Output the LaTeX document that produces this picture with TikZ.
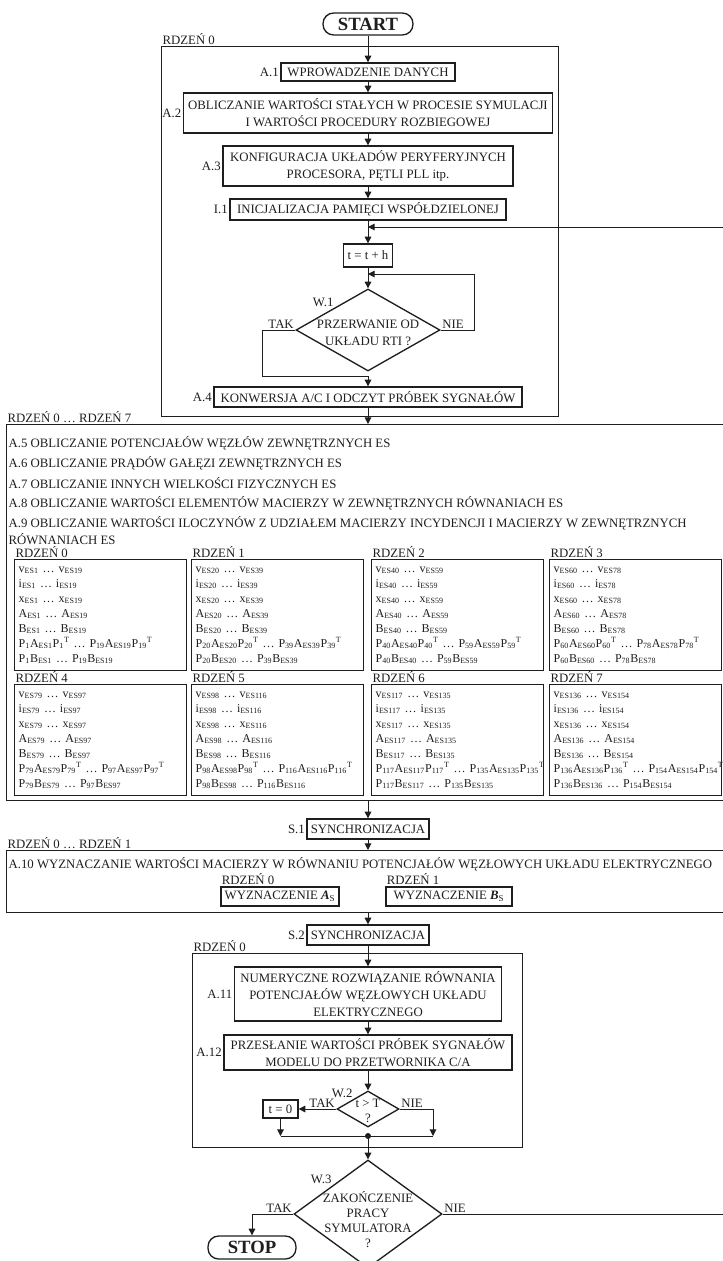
\documentclass[tikz,border=0pt]{standalone}
\usepackage{fontspec}
\setmainfont{Liberation Serif}
\usetikzlibrary{arrows.meta,positioning,shapes.geometric}
\definecolor{ink}{RGB}{30,30,30}
\newcommand{\corelist}[2]{%
v\textsubscript{ES#1}~…~v\textsubscript{ES#2}\\
i\textsubscript{ES#1}~…~i\textsubscript{ES#2}\\
x\textsubscript{ES#1}~…~x\textsubscript{ES#2}\\
A\textsubscript{ES#1}~…~A\textsubscript{ES#2}\\
B\textsubscript{ES#1}~…~B\textsubscript{ES#2}\\
P\textsubscript{#1}A\textsubscript{ES#1}P\textsubscript{#1}\textsuperscript{T}~…~P\textsubscript{#2}A\textsubscript{ES#2}P\textsubscript{#2}\textsuperscript{T}\\
P\textsubscript{#1}B\textsubscript{ES#1}~…~P\textsubscript{#2}B\textsubscript{ES#2}}

\begin{document}
\begin{tikzpicture}[x=0.75pt, y=-0.75pt,
  font=\fontsize{9.6pt}{12.75pt}\selectfont,
  box/.style={draw=ink, line width=1pt, align=center, inner sep=1pt, text=ink},
  group/.style={draw=ink, line width=1pt, inner sep=0pt, anchor=north west},
  core/.style={draw=ink, line width=1pt, align=left, anchor=north west, inner sep=3pt, text width=123pt, minimum height=83.25pt, text=ink, font=\fontsize{9pt}{11.25pt}\selectfont},
  term/.style={draw=ink, line width=1pt, rounded corners=8pt, inner sep=1pt, text=ink, font=\fontsize{14pt}{16pt}\selectfont\bfseries},
  decision/.style={draw=ink, line width=1pt, diamond, inner sep=0pt},
  lbl/.style={inner sep=1pt, text=ink},
  link/.style={draw=ink, line width=0.75pt},
  arrow/.style={link, -{Triangle[length=5pt, width=5pt]}},
]
  \useasboundingbox (0,0) rectangle (723,1261);

  \node[term, minimum width=67.5pt, minimum height=16.5pt] (start) at (368,24) {START};
  \node[group, minimum width=297.75pt, minimum height=277.5pt] (core0) at (161,46) {};
  \node[lbl, anchor=south west] (core0lbl) at (core0.north west) {RDZEŃ 0};
  \node[box, minimum width=130.5pt, minimum height=13.5pt] (a1) at (368,72) {WPROWADZENIE DANYCH};
  \node[lbl, left=0pt of a1] (a1lbl) {A.1};
  \node[box, minimum width=276.75pt, minimum height=30pt] (a2) at (368,113) {OBLICZANIE WARTOŚCI STAŁYCH W PROCESIE SYMULACJI\\I WARTOŚCI PROCEDURY ROZBIEGOWEJ};
  \node[lbl, left=0pt of a2] (a2lbl) {A.2};
  \node[box, minimum width=217.5pt, minimum height=30pt] (a3) at (368,166) {KONFIGURACJA UKŁADÓW PERYFERYJNYCH\\PROCESORA, PĘTLI PLL itp.};
  \node[lbl, left=0pt of a3] (a3lbl) {A.3};
  \node[box, minimum width=207pt, minimum height=15.75pt] (i1) at (368,209.5) {INICJALIZACJA PAMIĘCI WSPÓŁDZIELONEJ};
  \node[lbl, left=0pt of i1] (i1lbl) {I.1};
  \node[box, minimum width=36.75pt, minimum height=17.25pt] (tth) at (368,255.5) {t = t + h};
  \node[decision, minimum width=108pt, minimum height=61.5pt] (w1) at (368,330) {};
  \node[lbl, align=center] (w1txt) at (368,333) {PRZERWANIE OD\\UKŁADU RTI ?};
  \node[lbl, anchor=east] (w1lbl) at (335,302) {W.1};
  \node[lbl, anchor=south east] (w1yes) at (w1.west) {TAK};
  \node[lbl, anchor=south west] (w1no) at (w1.east) {NIE};
  \node[box, minimum width=231pt, minimum height=15pt] (a4) at (368,397) {KONWERSJA A/C I ODCZYT PRÓBEK SYGNAŁÓW};
  \node[lbl, left=0pt of a4] (a4lbl) {A.4};

  \node[group, minimum width=540pt, minimum height=282pt] (es) at (6,424) {};
  \node[lbl, anchor=south west] (eslbl) at (es.north west) {RDZEŃ 0 … RDZEŃ 7};
  \node[lbl, anchor=west] (a5) at (7,443) {A.5 OBLICZANIE POTENCJAŁÓW WĘZŁÓW ZEWNĘTRZNYCH ES};
  \node[lbl, anchor=west] (a6) at (7,463) {A.6 OBLICZANIE PRĄDÓW GAŁĘZI ZEWNĘTRZNYCH ES};
  \node[lbl, anchor=west] (a7) at (7,483) {A.7 OBLICZANIE INNYCH WIELKOŚCI FIZYCZNYCH ES};
  \node[lbl, anchor=west] (a8) at (7,503) {A.8 OBLICZANIE WARTOŚCI ELEMENTÓW MACIERZY W ZEWNĘTRZNYCH RÓWNANIACH ES};
  \node[lbl, anchor=west, align=left] (a9) at (7,531) {A.9 OBLICZANIE WARTOŚCI ILOCZYNÓW Z UDZIAŁEM MACIERZY INCYDENCJI I MACIERZY W ZEWNĘTRZNYCH\\RÓWNANIACH ES};

  \node[core] (c0) at (14,559) {\corelist{1}{19}};
  \node[core] (c1) at (191,559) {\corelist{20}{39}};
  \node[core] (c2) at (371,559) {\corelist{40}{59}};
  \node[core] (c3) at (549,559) {\corelist{60}{78}};
  \node[core] (c4) at (14,684) {\corelist{79}{97}};
  \node[core] (c5) at (191,684) {\corelist{98}{116}};
  \node[core] (c6) at (371,684) {\corelist{117}{135}};
  \node[core] (c7) at (549,684) {\corelist{136}{154}};
  \node[lbl, anchor=south west] (c0lbl) at (c0.north west) {RDZEŃ 0};
  \node[lbl, anchor=south west] (c1lbl) at (c1.north west) {RDZEŃ 1};
  \node[lbl, anchor=south west] (c2lbl) at (c2.north west) {RDZEŃ 2};
  \node[lbl, anchor=south west] (c3lbl) at (c3.north west) {RDZEŃ 3};
  \node[lbl, anchor=south west] (c4lbl) at (c4.north west) {RDZEŃ 4};
  \node[lbl, anchor=south west] (c5lbl) at (c5.north west) {RDZEŃ 5};
  \node[lbl, anchor=south west] (c6lbl) at (c6.north west) {RDZEŃ 6};
  \node[lbl, anchor=south west] (c7lbl) at (c7.north west) {RDZEŃ 7};

  \node[box, minimum width=91.5pt, minimum height=15pt] (s1) at (368,829) {SYNCHRONIZACJA};
  \node[lbl, left=0pt of s1] (s1lbl) {S.1};
  \node[group, minimum width=540pt, minimum height=46.5pt] (a10) at (6,850) {};
  \node[lbl, anchor=south west] (a10lbl) at (a10.north west) {RDZEŃ 0 … RDZEŃ 1};
  \node[lbl, anchor=west] (a10txt) at (7,864) {A.10 WYZNACZANIE WARTOŚCI MACIERZY W RÓWNANIU POTENCJAŁÓW WĘZŁOWYCH UKŁADU ELEKTRYCZNEGO};
  \node[box, minimum width=88.5pt, minimum height=14.25pt] (as) at (280,896.5) {WYZNACZENIE \textbf{\textit{A}}\textsubscript{S}};
  \node[lbl, anchor=south west] (aslbl) at (as.north west) {RDZEŃ 0};
  \node[box, minimum width=94.5pt, minimum height=14.25pt] (bs) at (449,896.5) {WYZNACZENIE \textbf{\textit{B}}\textsubscript{S}};
  \node[lbl, anchor=south west] (bslbl) at (bs.north west) {RDZEŃ 1};

  \node[box, minimum width=91.5pt, minimum height=15pt] (s2) at (368,935) {SYNCHRONIZACJA};
  \node[lbl, left=0pt of s2] (s2lbl) {S.2};
  \node[group, minimum width=247.5pt, minimum height=145.5pt] (core0b) at (192,953) {};
  \node[lbl, anchor=south west] (core0blbl) at (core0b.north west) {RDZEŃ 0};
  \node[box, minimum width=200.25pt, minimum height=40.5pt] (a11) at (368,994) {NUMERYCZNE ROZWIĄZANIE RÓWNANIA\\POTENCJAŁÓW WĘZŁOWYCH UKŁADU\\ELEKTRYCZNEGO};
  \node[lbl, left=0pt of a11] (a11lbl) {A.11};
  \node[box, minimum width=216pt, minimum height=26.25pt] (a12) at (368,1052.5) {PRZESŁANIE WARTOŚCI PRÓBEK SYGNAŁÓW\\MODELU DO PRZETWORNIKA C/A};
  \node[lbl, left=0pt of a12] (a12lbl) {A.12};
  \node[decision, minimum width=46.5pt, minimum height=27pt] (w2) at (368,1109) {};
  \node[lbl, align=center, font=\fontsize{9.6pt}{11.25pt}\selectfont] (w2txt) at (368,1111) {t > T\\?};
  \node[lbl, anchor=east] (w2lbl) at (354,1093) {W.2};
  \node[lbl, anchor=south east] (w2yes) at (w2.west) {TAK};
  \node[lbl, anchor=south west] (w2no) at (w2.east) {NIE};
  \node[box, minimum width=26.25pt, minimum height=13.5pt] (tzero) at (280.5,1109) {t = 0};
  \coordinate (mergel) at (280.5,1136);
  \coordinate (mergec) at (368,1136);
  \coordinate (merger) at (433,1136);

  \node[decision, minimum width=111pt, minimum height=81pt] (w3) at (368,1214) {};
  \node[lbl, align=center, font=\fontsize{9.6pt}{11.25pt}\selectfont] (w3txt) at (368,1220) {ZAKOŃCZENIE\\PRACY\\SYMULATORA\\?};
  \node[lbl, anchor=east] (w3lbl) at (333,1179) {W.3};
  \node[lbl, anchor=south east] (w3yes) at (w3.west) {TAK};
  \node[lbl, anchor=south west] (w3no) at (w3.east) {NIE};
  \node[term, minimum width=66pt, minimum height=17.25pt] (stop) at (252,1247.5) {STOP};

  \coordinate (fbin) at (368,227);
  \coordinate (fbturn) at (745,227);
  \coordinate (loopin) at (368,274);
  \coordinate (takjoin) at (368,376);

  \draw[arrow] (start) -- (a1);
  \draw[arrow] (a1) -- (a2);
  \draw[arrow] (a2) -- (a3);
  \draw[arrow] (a3) -- (i1);
  \draw[arrow] (i1) -- (tth);
  \draw[arrow] (tth) -- (w1);
  \draw[arrow] (w1.east) -- ++(34,0) |- (loopin);
  \draw[arrow] (w1.west) -- ++(-33,0) |- (takjoin) -- (a4);
  \draw[arrow] (a4) -- (a4 |- es.north);
  \draw[arrow] (es.south -| s1) -- (s1);
  \draw[arrow] (s1) -- (s1 |- a10.north);
  \draw[arrow] (a10.south -| s2) -- (s2);
  \draw[arrow] (s2) -- (a11);
  \draw[arrow] (a11) -- (a12);
  \draw[arrow] (a12) -- (w2);
  \draw[arrow] (w2.west) -- (tzero);
  \draw[arrow] (w2.east) -| (merger);
  \draw[arrow] (tzero) -- (mergel);
  \draw[link] (mergel) -- (merger);
  \fill[ink] (mergec) circle (2.25pt);
  \draw[arrow] (mergec) -- (w3);
  \draw[arrow] (w3.west) -| (stop);
  \draw[arrow] (w3.east) -| (fbturn) -- (fbin);
\end{tikzpicture}
\end{document}
